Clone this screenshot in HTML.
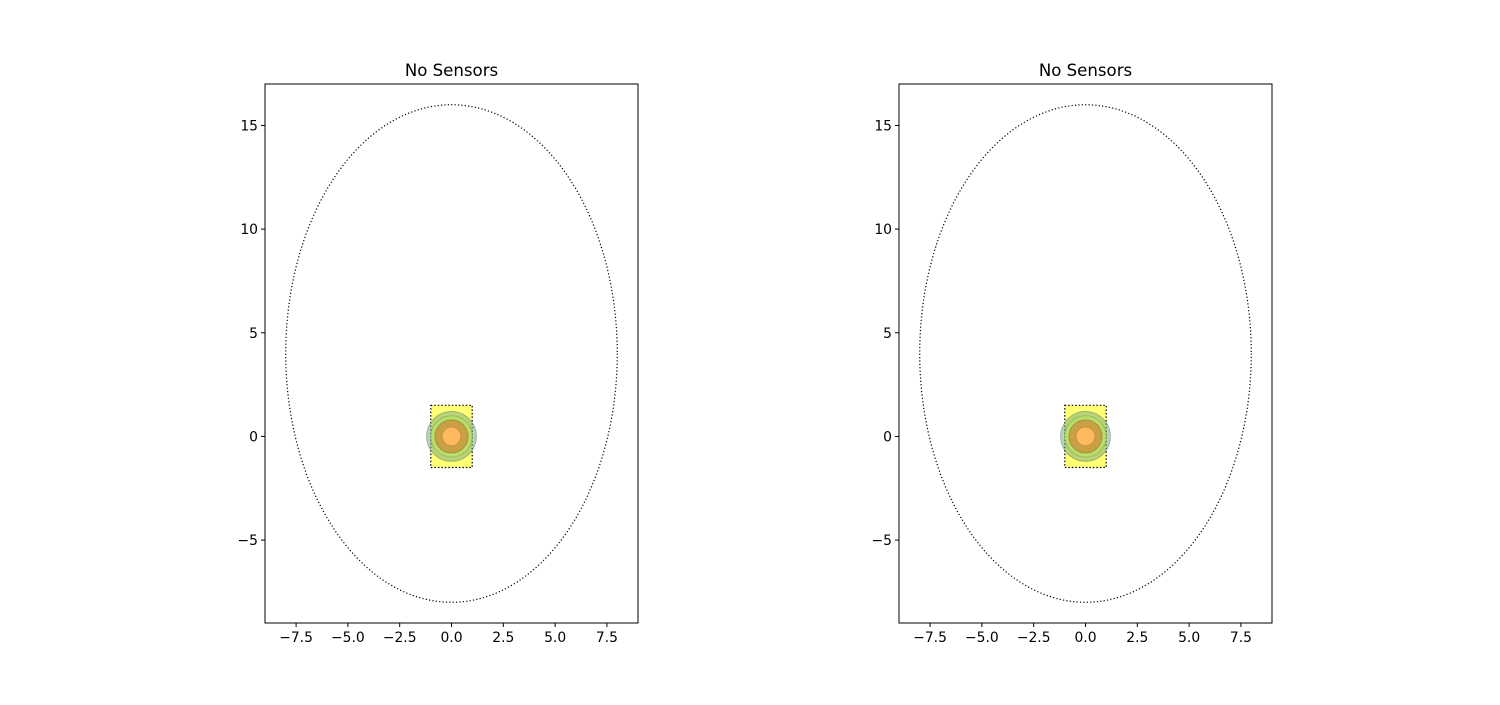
<!DOCTYPE html>
<html><head><meta charset="utf-8"><style>
body{margin:0;background:#fff;width:1500px;height:700px;overflow:hidden}
text{font-family:"DejaVu Sans","Liberation Sans",sans-serif}
</style></head><body>
<svg id="fig" width="1500" height="700" xmlns="http://www.w3.org/2000/svg"></svg>
<script>
const xTicks=[-7.5,-5.0,-2.5,0.0,2.5,5.0,7.5];
const yTicks=[-5,0,5,10,15];
const xDomain=[-9,9];
const yDomain=[-9,17];
const titles=["No Sensors","No Sensors"];
const ellipse={cx:0,cy:4,rx:8,ry:12};
const rectBox={x0:-1,x1:1,y0:-1.5,y1:1.5};
const circleRadii=[1.2,1.0,0.8,0.45];
const circleFills=["rgba(130,175,130,0.55)","rgba(185,222,105,0.95)","rgba(205,145,60,0.8)","rgba(255,185,95,1)"];
const circleStrokes=["rgba(90,130,90,0.5)","rgba(120,160,60,0.5)","rgba(140,100,40,0.5)","rgba(200,130,60,0.6)"];
const panels=[{left:265,right:638},{left:899,right:1272}];
const axTop=84,axBottom=623;
const NS="http://www.w3.org/2000/svg";
const svg=document.getElementById('fig');
function mk(t,a,p){const e=document.createElementNS(NS,t);for(const k in a)e.setAttribute(k,a[k]);(p||svg).appendChild(e);return e;}
panels.forEach((p,i)=>{
  const sx=v=>p.left+(v-xDomain[0])/(xDomain[1]-xDomain[0])*(p.right-p.left);
  const sy=v=>axBottom-(v-yDomain[0])/(yDomain[1]-yDomain[0])*(axBottom-axTop);
  const g=mk('g',{});
  
  
  const r=mk('rect',{x:sx(rectBox.x0),y:sy(rectBox.y1),width:sx(rectBox.x1)-sx(rectBox.x0),height:sy(rectBox.y0)-sy(rectBox.y1),fill:'rgba(255,255,90,0.85)',stroke:'#000','stroke-width':1.2,'stroke-dasharray':'1.5,2'},g);
  
  
  circleRadii.forEach((rad,j)=>{
    const c=mk('circle',{cx:sx(0),cy:sy(0),r:sx(rad)-sx(0),fill:circleFills[j],stroke:circleStrokes[j],'stroke-width':1},g);
    
    
  });
  const el=mk('ellipse',{cx:sx(ellipse.cx),cy:sy(ellipse.cy),rx:sx(ellipse.rx)-sx(0),ry:sy(0)-sy(ellipse.ry),fill:'none',stroke:'#000','stroke-width':1.2,'stroke-dasharray':'1.2,2.2'},g);
  
  
  const fr=mk('rect',{x:p.left,y:axTop,width:p.right-p.left,height:axBottom-axTop,fill:'none',stroke:'#000','stroke-width':1},g);
  
  
  xTicks.forEach(v=>{
    const x=sx(v);
    mk('line',{x1:x,x2:x,y1:axBottom,y2:axBottom+4,stroke:'#000'},g);
    const t=mk('text',{x:x,y:axBottom+19,'font-size':13.9,'text-anchor':'middle'},g);
    t.textContent=v.toFixed(1).replace('-','\u2212');
    
    
  });
  yTicks.forEach(v=>{
    const y=sy(v);
    mk('line',{x1:p.left-4,x2:p.left,y1:y,y2:y,stroke:'#000'},g);
    const t=mk('text',{x:p.left-7,y:y+5,'font-size':13.9,'text-anchor':'end'},g);
    t.textContent=String(v).replace('-','\u2212');
    
    
  });
  const tt=mk('text',{x:(p.left+p.right)/2,y:76,'font-size':16.6,'text-anchor':'middle'},g);
  tt.textContent=titles[i];
  
  
});
</script>
</body></html>
